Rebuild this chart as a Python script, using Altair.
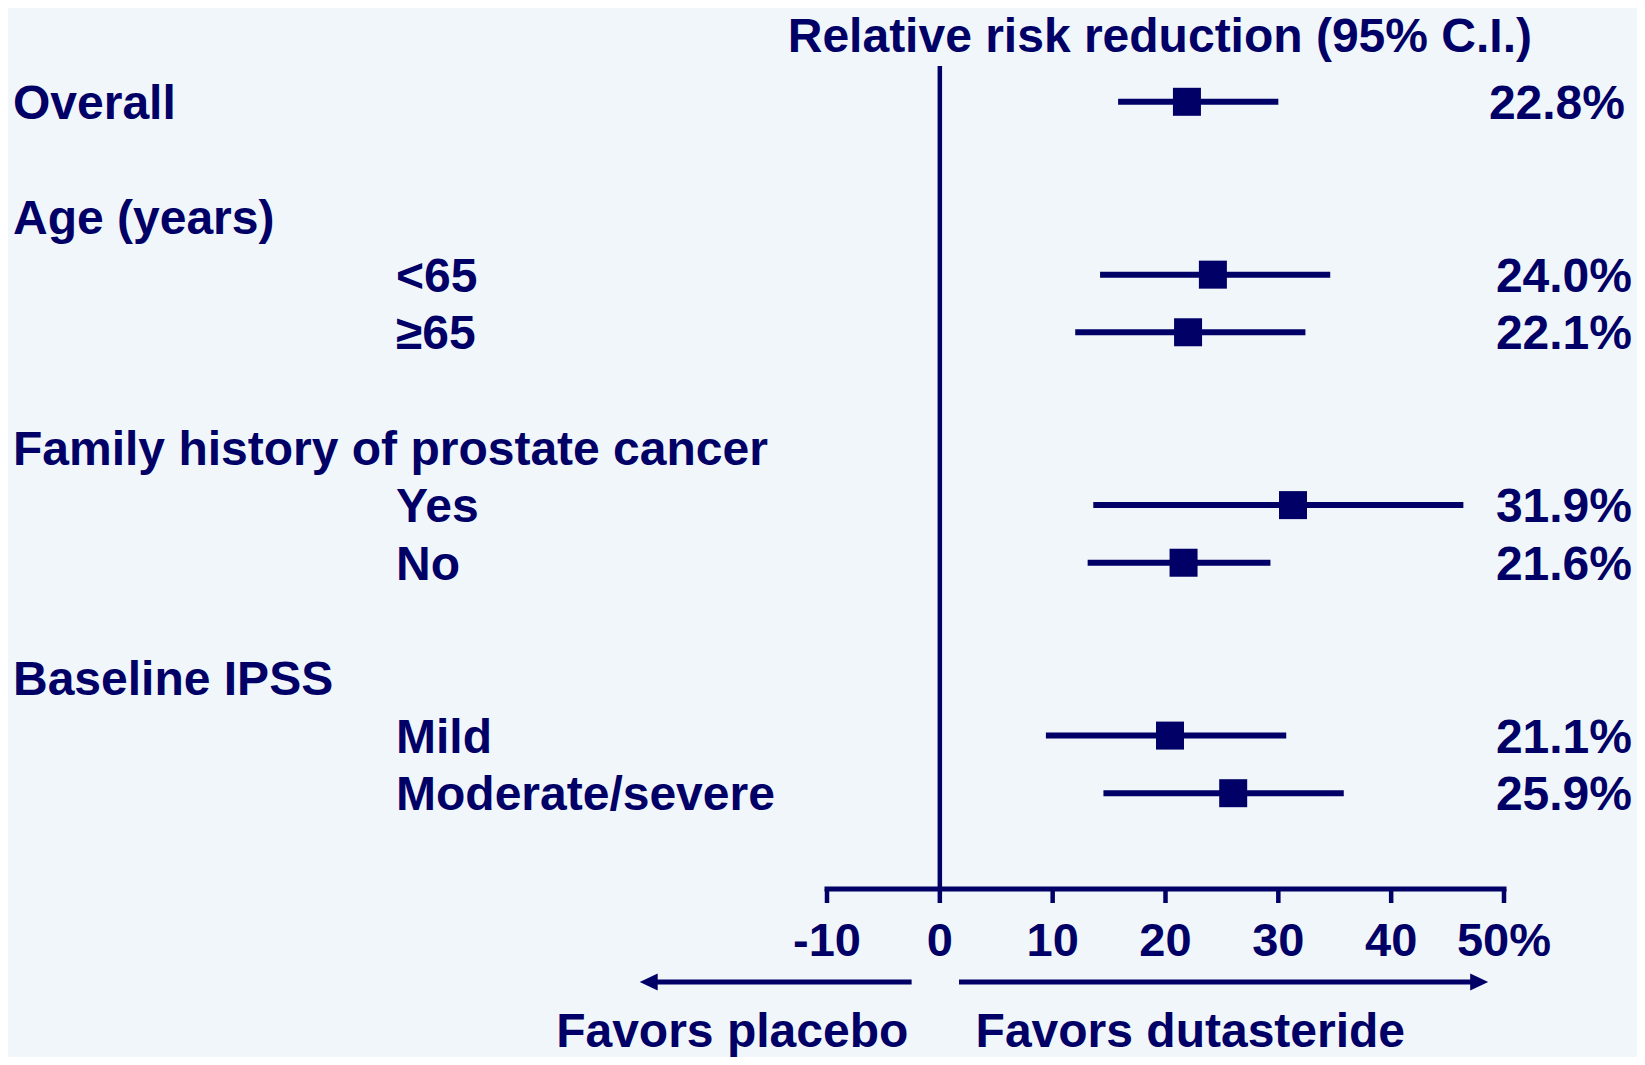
import altair as alt
import pandas as pd

NAVY = "#000066"
BG = "#F1F6FA"
FONT = "Liberation Sans"

# ---- data ----
row_labels = ["Overall", "", "Age (years)", "<65", "≥65", "",
              "Family history of prostate cancer", "Yes", "No", "",
              "Baseline IPSS", "Mild", "Moderate/severe"]
header_rows = ["Overall", "Age (years)", "Family history of prostate cancer", "Baseline IPSS"]

est_rows = ["Overall", "<65", "≥65", "Yes", "No", "Mild", "Moderate/severe"]
point = [21.9, 24.2, 22.0, 31.3, 21.6, 20.4, 26.0]
ci_low = [15.8, 14.2, 12.0, 13.6, 13.1, 9.4, 14.5]
ci_high = [30.0, 34.6, 32.4, 46.4, 29.3, 30.7, 35.8]
rrr_text = ["22.8%", "24.0%", "22.1%", "31.9%", "21.6%", "21.1%", "25.9%"]

tick_values = [-10, 0, 10, 20, 30, 40, 50]
tick_labels = ["-10", "0", "10", "20", "30", "40", "50%"]

title_text = "Relative risk reduction (95% C.I.)"
title_x = 19.5
favors_text = ["Favors placebo", "Favors dutasteride"]
favors_x = [-18.4, 22.2]
arrow_start = [-2.5, 1.7]
arrow_tip = [-26.6, 48.6]
arrow_dir = ["left", "right"]

# ---- tables ----
labels_df = pd.DataFrame({
    "label": [l for l in row_labels if l],
    "slot": [i for i, l in enumerate(row_labels) if l],
})
labels_df["kind"] = ["header" if l in header_rows else "sub" for l in labels_df["label"]]

est_df = pd.DataFrame({
    "row": est_rows,
    "slot": [row_labels.index(r) for r in est_rows],
    "point": point, "lo": ci_low, "hi": ci_high, "txt": rrr_text,
})
est_df["overall"] = [r == "Overall" for r in est_rows]

ticks_df = pd.DataFrame({"v": tick_values, "lab": tick_labels})
axis_df = pd.DataFrame({"a": [min(tick_values)], "b": [max(tick_values)]})
zero_df = pd.DataFrame({"v": [0]})

head_units = 1.4
arrows_df = pd.DataFrame({
    "start": arrow_start, "tip": arrow_tip, "dir": arrow_dir,
})
arrows_df["shaft_end"] = [t + head_units if d == "left" else t - head_units
                          for t, d in zip(arrow_tip, arrow_dir)]
favors_df = pd.DataFrame({"txt": favors_text, "x": favors_x})
title_df = pd.DataFrame({"txt": [title_text], "x": [title_x]})

X = alt.Scale(domain=[-10, 50], range=[819, 1496], nice=False, zero=False)
Y = alt.Scale(domain=[0, 12], range=[93.8, 785.2], nice=False, zero=False)

txt = dict(font=FONT, fontWeight="bold", color=NAVY, baseline="middle")

ci = alt.Chart(est_df).mark_rule(color=NAVY, strokeWidth=6, strokeCap="butt").encode(
    x=alt.X("lo:Q", scale=X, axis=None), x2="hi:Q",
    y=alt.Y("slot:Q", scale=Y, axis=None))

sq = alt.Chart(est_df).mark_point(shape="square", filled=True, size=784,
                                   opacity=1, color=NAVY).encode(
    x=alt.X("point:Q", scale=X, axis=None),
    y=alt.Y("slot:Q", scale=Y, axis=None))

hdr = alt.Chart(labels_df).transform_filter(alt.datum.kind == "header").mark_text(
    align="left", fontSize=48, dy=3, **txt).encode(
    x=alt.value(5), y=alt.Y("slot:Q", scale=Y, axis=None), text="label:N")

sub = alt.Chart(labels_df).transform_filter(alt.datum.kind == "sub").mark_text(
    align="left", fontSize=48, dy=3, **txt).encode(
    x=alt.value(388), y=alt.Y("slot:Q", scale=Y, axis=None), text="label:N")

rrr_o = alt.Chart(est_df).transform_filter(alt.datum.overall).mark_text(
    align="right", fontSize=48, dy=3, **txt).encode(
    x=alt.value(1617), y=alt.Y("slot:Q", scale=Y, axis=None), text="txt:N")

rrr_s = alt.Chart(est_df).transform_filter(~alt.datum.overall).mark_text(
    align="right", fontSize=48, dy=3, **txt).encode(
    x=alt.value(1624), y=alt.Y("slot:Q", scale=Y, axis=None), text="txt:N")

zero = alt.Chart(zero_df).mark_rule(color=NAVY, strokeWidth=4.5).encode(
    x=alt.X("v:Q", scale=X, axis=None), y=alt.value(58), y2=alt.value(881))

axis_line = alt.Chart(axis_df).mark_rule(color=NAVY, strokeWidth=5, strokeCap="square").encode(
    x=alt.X("a:Q", scale=X, axis=None), x2="b:Q", y=alt.value(881))

tick_marks = alt.Chart(ticks_df).mark_rule(color=NAVY, strokeWidth=4.5).encode(
    x=alt.X("v:Q", scale=X, axis=None), y=alt.value(881), y2=alt.value(895))

tick_text = alt.Chart(ticks_df).mark_text(align="center", fontSize=47, **txt).encode(
    x=alt.X("v:Q", scale=X, axis=None), y=alt.value(934), text="lab:N")

shafts = alt.Chart(arrows_df).mark_rule(color=NAVY, strokeWidth=5, strokeCap="butt").encode(
    x=alt.X("start:Q", scale=X, axis=None), x2="shaft_end:Q", y=alt.value(974))

head_l = alt.Chart(arrows_df).transform_filter(alt.datum.dir == "left").mark_point(
    shape="M0,0L2,-0.95L2,0.95Z", filled=True, size=324, opacity=1, color=NAVY,
    strokeWidth=0).encode(x=alt.X("tip:Q", scale=X, axis=None), y=alt.value(974))

head_r = alt.Chart(arrows_df).transform_filter(alt.datum.dir == "right").mark_point(
    shape="M0,0L-2,-0.95L-2,0.95Z", filled=True, size=324, opacity=1, color=NAVY,
    strokeWidth=0).encode(x=alt.X("tip:Q", scale=X, axis=None), y=alt.value(974))

favors = alt.Chart(favors_df).mark_text(align="center", fontSize=48, **txt).encode(
    x=alt.X("x:Q", scale=X, axis=None), y=alt.value(1025), text="txt:N")

title = alt.Chart(title_df).mark_text(align="center", fontSize=48, **txt).encode(
    x=alt.X("x:Q", scale=X, axis=None), y=alt.value(30), text="txt:N")

chart = alt.layer(
    zero, ci, sq, hdr, sub, rrr_o, rrr_s, axis_line, tick_marks, tick_text,
    shafts, head_l, head_r, favors, title
).properties(
    width=1629, height=1049, background=BG,
    autosize=alt.AutoSizeParams(type="none"),
    padding=0,
).configure_view(stroke=None)

chart.save("out.html", embed_options={"renderer": "svg", "actions": False})
